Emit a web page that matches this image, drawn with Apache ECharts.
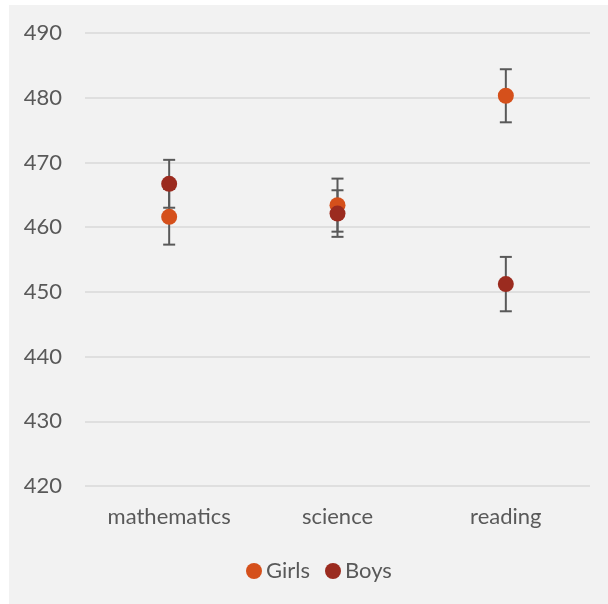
<!DOCTYPE html>
<html>
<head>
<meta charset="utf-8">
<script src="https://cdn.jsdelivr.net/npm/echarts@6/dist/echarts.min.js"></script>
<style>
  html, body { margin: 0; padding: 0; background: #ffffff; }
  #chart { width: 608px; height: 604px; }
</style>
</head>
<body>
<div id="chart"></div>
<script>
// Mean scores by subject with error bars
var categories = ['mathematics', 'science', 'reading'];
var girls = [461.6, 463.4, 480.3];
var boys = [466.7, 462.1, 451.2];
var girlsErr = [4.3, 4.1, 4.1];
var boysErr = [3.7, 3.6, 4.2];
var yTicks = [420, 430, 440, 450, 460, 470, 480, 490];

var FONT = 'Lato, "Open Sans", sans-serif';
var GIRLS_COLOR = '#d5501b';
var BOYS_COLOR = '#9b2b1f';

function errorData(vals, errs) {
  return vals.map(function (v, i) { return [i, v - errs[i], v + errs[i]]; });
}

function renderErrorBar(params, api) {
  var x = api.value(0);
  var lo = api.coord([x, api.value(1)]);
  var hi = api.coord([x, api.value(2)]);
  var half = 6;
  var style = { stroke: '#595959', lineWidth: 2, fill: null };
  return {
    type: 'group',
    children: [
      { type: 'line', shape: { x1: hi[0], y1: hi[1], x2: lo[0], y2: lo[1] }, style: style },
      { type: 'line', shape: { x1: hi[0] - half, y1: hi[1], x2: hi[0] + half, y2: hi[1] }, style: style },
      { type: 'line', shape: { x1: lo[0] - half, y1: lo[1], x2: lo[0] + half, y2: lo[1] }, style: style }
    ]
  };
}

var chart = echarts.init(document.getElementById('chart'), null, { renderer: 'canvas' });
chart.setOption({
  animation: false,
  graphic: [{
    type: 'rect', left: 9, top: 5, z: -10,
    shape: { width: 599, height: 599 },
    style: { fill: '#f2f2f2' }
  }],
  grid: { left: 85, right: 18, top: 33, bottom: 118 },
  legend: {
    data: ['Girls', 'Boys'],
    bottom: 17,
    left: 241,
    icon: 'circle',
    itemWidth: 16,
    itemHeight: 16,
    itemGap: 15,
    textStyle: { color: '#595959', fontSize: 22, fontFamily: FONT, padding: [0, 0, 0, -1] }
  },
  xAxis: {
    type: 'category',
    data: categories,
    boundaryGap: true,
    axisLine: { show: false },
    axisTick: { show: false },
    axisLabel: { color: '#595959', fontSize: 22, fontFamily: FONT, margin: 20 }
  },
  yAxis: {
    type: 'value',
    min: yTicks[0],
    max: yTicks[yTicks.length - 1],
    interval: 10,
    axisLine: { show: false },
    axisTick: { show: false },
    axisLabel: { color: '#595959', fontSize: 22, fontFamily: FONT, margin: 23 },
    splitLine: { lineStyle: { color: '#d9d9d9', width: 1.5 } }
  },
  series: [
    {
      type: 'custom', name: 'girlsErr', z: 1,
      renderItem: renderErrorBar,
      data: errorData(girls, girlsErr),
      encode: { x: 0, y: [1, 2] }
    },
    {
      type: 'custom', name: 'boysErr', z: 1,
      renderItem: renderErrorBar,
      data: errorData(boys, boysErr),
      encode: { x: 0, y: [1, 2] }
    },
    {
      type: 'scatter', name: 'Girls', z: 3,
      data: girls, symbol: 'circle', symbolSize: 16,
      itemStyle: { color: GIRLS_COLOR, opacity: 1 }
    },
    {
      type: 'scatter', name: 'Boys', z: 4,
      data: boys, symbol: 'circle', symbolSize: 16,
      itemStyle: { color: BOYS_COLOR, opacity: 1 }
    }
  ]
});
</script>
</body>
</html>
